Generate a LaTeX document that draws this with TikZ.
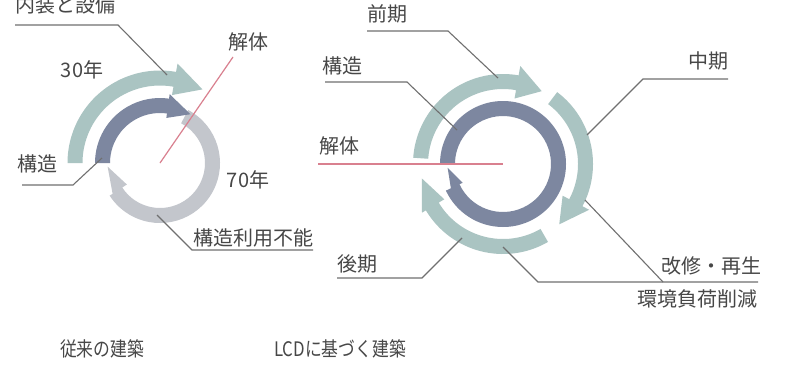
\documentclass[tikz,border=0pt]{standalone}
\usepackage{fontspec}
\setmainfont{Noto Sans CJK JP}
\definecolor{ringteal}{HTML}{AAC4C2}
\definecolor{ringdark}{HTML}{7D87A0}
\definecolor{ringgray}{HTML}{C3C6CC}
\definecolor{cutpink}{HTML}{D9808F}
\definecolor{leadgray}{HTML}{707070}
\definecolor{txtgray}{HTML}{474747}
\newcommand{\ringarrow}[8]{%
  \fill[#1] ({#4}:{#2+#3}) arc[start angle={#4}, end angle={#5}, radius={#2+#3}]
    -- ({#5}:{#2+#7}) -- ({#6}:{#2}) -- ({#5}:{#2-#8}) -- ({#5}:{#2-#3})
    arc[start angle={#5}, end angle={#4}, radius={#2-#3}] -- cycle;}
\tikzset{
  lbl/.style={font=\fontsize{20}{20}\selectfont, text=txtgray, inner sep=0pt},
  captext/.style={font=\fontsize{20}{20}\selectfont, text=txtgray, inner sep=0pt, xscale=0.84},
  lead/.style={draw=leadgray, line width=1.1pt},
  cutline/.style={draw=cutpink, line width=1.2pt}
}
\begin{document}
\begin{tikzpicture}[x=1pt,y=1pt]
\useasboundingbox (0,0) rectangle (787,-367);
\fill[white] (0,0) rectangle (787,-367);

% ---------- left diagram ----------
\coordinate (C1) at (160,-163);
\begin{scope}[shift={(C1)}]
  \ringarrow{ringteal}{85}{7.5}{180}{80}{60}{16}{16}
  \ringarrow{ringgray}{52.5}{7.5}{62}{-147}{-176}{4}{13}
  \ringarrow{ringdark}{57.5}{7.5}{180}{82}{58}{12}{12}
\end{scope}
\coordinate (K1) at (233,-57);
\draw[cutline] (C1) -- (K1);
\node[lbl] (kaitai1) at (248,-42) {解体};

\node[lbl] (naiso) at (65,-5) {内装と設備};
\coordinate (n1a) at (15,-25);
\coordinate (n1b) at (118,-25);
\coordinate (n1c) at (167,-75);
\draw[lead] (n1a) -- (n1b) -- (n1c);

\node[lbl] (yr30) at (82,-70) {30年};
\node[lbl] (yr70) at (248,-180) {70年};

\node[lbl] (kozo1) at (37,-164) {構造};
\coordinate (k1a) at (22,-185);
\coordinate (k1b) at (73,-185);
\coordinate (k1c) at (102,-158);
\draw[lead] (k1a) -- (k1b) -- (k1c);

\node[lbl] (funo) at (253,-238) {構造利用不能};
\coordinate (f1a) at (157,-215);
\coordinate (f1b) at (192,-250);
\coordinate (f1c) at (313,-250);
\draw[lead] (f1a) -- (f1b) -- (f1c);

\node[captext] (capL) at (102,-349) {従来の建築};

% ---------- right diagram ----------
\coordinate (C2) at (503,-164);
\begin{scope}[shift={(C2)}]
  \ringarrow{ringteal}{82.5}{7.5}{176}{80}{62}{17}{16}
  \ringarrow{ringteal}{82.5}{7.5}{53}{-28}{-47}{15}{15}
  \ringarrow{ringteal}{82.5}{7.5}{-60}{-149}{-170}{12}{14}
  \ringarrow{ringdark}{55.5}{7.5}{180}{-155}{-176}{2}{11}
\end{scope}
\coordinate (K2) at (318,-164);
\draw[cutline] (K2) -- (C2);
\node[lbl] (kaitai2) at (339,-146) {解体};

\node[lbl] (zenki) at (387,-14) {前期};
\coordinate (z1a) at (367,-31);
\coordinate (z1b) at (448,-31);
\coordinate (z1c) at (498,-78);
\draw[lead] (z1a) -- (z1b) -- (z1c);

\node[lbl] (kozo2) at (342,-66) {構造};
\coordinate (k2a) at (325,-82);
\coordinate (k2b) at (407,-82);
\coordinate (k2c) at (457,-130);
\draw[lead] (k2a) -- (k2b) -- (k2c);

\node[lbl] (chuki) at (708,-61) {中期};
\coordinate (c2a) at (728,-79);
\coordinate (c2b) at (643,-79);
\coordinate (c2c) at (587,-135);
\draw[lead] (c2a) -- (c2b) -- (c2c);

\node[lbl] (koki) at (357,-264) {後期};
\coordinate (g2a) at (337,-278);
\coordinate (g2b) at (422,-278);
\coordinate (g2c) at (462,-238);
\draw[lead] (g2a) -- (g2b) -- (g2c);

\node[lbl] (kaishu) at (711,-266) {改修・再生};
\node[lbl] (kankyo) at (697,-299) {環境負荷削減};
\coordinate (r2a) at (585,-200);
\coordinate (r2b) at (663,-282);
\coordinate (e2a) at (503,-247);
\coordinate (e2b) at (538,-282);
\coordinate (e2c) at (758,-282);
\draw[lead] (r2a) -- (r2b);
\draw[lead] (e2a) -- (e2b) -- (e2c);

\node[captext] (capR) at (340,-349) {LCDに基づく建築};
\end{tikzpicture}
\end{document}
